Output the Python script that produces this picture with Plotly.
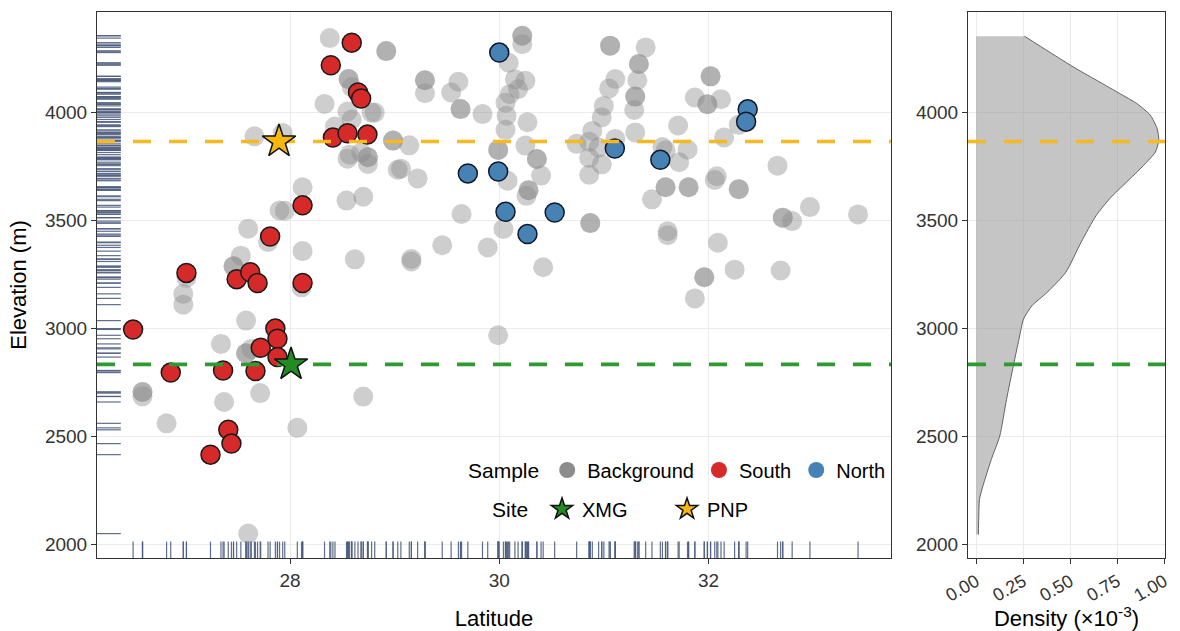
import plotly.graph_objects as go

# ---------------- data ----------------
bg_lat = [26.59, 26.59, 26.59, 26.82, 26.98, 26.98, 27.01, 27.34, 27.58, 27.58, 27.58,
          27.63, 27.37, 27.715, 28.07, 27.60, 28.70, 29.99, 27.60, 27.53, 27.46, 27.46,
          27.79, 28.12, 28.62, 28.11, 27.90, 27.95, 28.12, 27.66, 27.93, 28.38, 28.56,
          28.56, 28.59, 28.33, 28.55, 28.78, 28.59, 28.43, 28.57, 28.55, 28.745, 28.745,
          28.745, 28.68, 28.54, 28.70, 28.92, 28.92, 28.985, 28.985, 29.03, 28.81,
          29.29, 29.29, 29.29, 29.61, 29.54, 29.63, 29.63, 29.84, 30.22, 30.22, 30.22,
          30.09, 30.15, 30.25, 30.18, 30.10, 30.06, 30.07, 30.06, 30.27, 29.99, 29.99,
          30.25, 30.36, 30.36, 30.40, 30.28, 30.28, 30.26, 30.08, 29.14, 29.22, 29.06,
          29.64, 30.04, 29.455, 29.16, 29.16, 29.89, 30.42, 30.87, 30.87, 31.06, 31.06,
          31.40, 31.335, 31.335, 31.32, 31.30, 31.30, 31.29, 31.11, 31.05, 31.00, 30.98,
          31.11, 31.30, 30.89, 30.86, 30.95, 30.86, 30.98, 30.86, 30.74, 31.71, 31.56,
          31.59, 31.80, 31.72, 31.59, 31.59, 31.46, 31.81, 31.81, 31.87, 32.02, 32.02,
          31.99, 31.99, 32.12, 32.15, 32.29, 32.06, 32.08, 32.29, 32.29, 32.66, 32.71,
          32.71, 32.80, 32.97, 33.43, 31.61, 31.61, 32.09, 31.96, 31.96, 32.25, 32.69,
          31.87]
bg_elev = [2705, 2705, 2685, 2560, 3160, 3110, 3235, 2928, 3036, 2885, 2885,
           2905, 2659, 2700, 2539, 2049, 2684, 2968, 3462, 3337, 3288, 3288,
           3400, 3358, 3320, 3190, 3546, 3545, 3654, 3890, 3905, 4345, 4155,
           4155, 4118, 4040, 4005, 4000, 3968, 3935, 3805, 3786, 3793, 3793,
           3762, 3815, 3592, 3610, 4285, 4285, 3870, 3870, 3735, 4000,
           4150, 4150, 4090, 4143, 4093, 4016, 4016, 3993, 4356, 4356, 4317,
           4231, 4154, 4147, 4108, 4085, 4046, 3985, 3920, 3955, 3827, 3827,
           3847, 3785, 3785, 3708, 3640, 3640, 3614, 3684, 3848, 3695, 3740,
           3530, 3461, 3385, 3322, 3310, 3375, 3283, 3488, 3488, 4310, 4310,
           4302, 4225, 4225, 4150, 4074, 4074, 4012, 4155, 4112, 4031, 3978,
           3878, 3908, 3915, 3865, 3838, 3790, 3760, 3712, 3855, 3940, 3840,
           3825, 3828, 3770, 3654, 3654, 3598, 3654, 3654, 4070, 4168, 4168,
           4039, 4039, 4062, 3885, 3943, 3688, 3705, 3645, 3645, 3754, 3513,
           3513, 3497, 3562, 3528, 3450, 3432, 3397, 3237, 3237, 3272, 3268,
           3139]

south_lat = [26.50, 27.01, 26.86, 27.24, 27.41, 27.44, 27.36, 27.67, 27.72, 27.86,
             27.88, 27.88, 27.49, 27.62, 27.69, 27.81, 28.12, 28.12, 28.39, 28.59,
             28.65, 28.68, 28.41, 28.55, 28.74]
south_elev = [2995, 3257, 2795, 2415, 2530, 2466, 2805, 2802, 2910, 2999,
              2952, 2867, 3228, 3260, 3210, 3426, 3210, 3570, 4219, 4324,
              4093, 4065, 3884, 3904, 3898]

north_lat = [30.00, 29.70, 29.99, 30.06, 30.53, 30.27, 31.105, 31.54, 32.375, 32.36]
north_elev = [4278, 3718, 3727, 3540, 3537, 3437, 3833, 3781, 4015, 3958]

site_names = ["XMG", "PNP"]
site_lat = [28.01, 27.895]
site_elev = [2833, 3866]
site_colors = ["#228B22", "#F7B70F"]
line_colors = ["#2F9A2F", "#F6B921"]

# density of elevation (x 10^-3) from bottom to top
dens_elev = [2045, 2120, 2207, 2269, 2393, 2502, 2672, 2827, 2950, 3043, 3105,
             3167, 3260, 3399, 3523, 3601, 3678, 3755, 3817, 3872, 3926, 3988,
             4042, 4088, 4142, 4204, 4282, 4354]
dens_val = [0.012, 0.014, 0.018, 0.036, 0.081, 0.126, 0.162, 0.198, 0.228, 0.252, 0.297,
            0.378, 0.477, 0.558, 0.638, 0.710, 0.800, 0.890, 0.953, 0.971, 0.962, 0.926,
            0.854, 0.764, 0.656, 0.531, 0.387, 0.257]

lat_ticks = [28, 30, 32]
elev_ticks = [2000, 2500, 3000, 3500, 4000]
dens_ticks = [0.0, 0.25, 0.5, 0.75, 1.0]

# ---------------- figure ----------------
W, H = 1180, 631
xr = [26.155, 33.745]
yr = [1936, 4466]
xdr = [-0.043, 1.004]

FONT = "Liberation Sans, Arial, sans-serif"
RUG_C = "rgba(78,94,128,0.9)"

fig = go.Figure()

# rugs (all samples)
all_lat = bg_lat + south_lat + north_lat
all_elev = bg_elev + south_elev + north_elev
rx, ry = [], []
xlen = 0.03 * (xr[1] - xr[0])
ylen = 0.03 * (yr[1] - yr[0])
for e in all_elev:
    rx += [xr[0], xr[0] + xlen, None]
    ry += [e, e, None]
for l in all_lat:
    rx += [l, l, None]
    ry += [yr[0], yr[0] + ylen, None]
fig.add_trace(go.Scatter(x=rx, y=ry, mode="lines", line=dict(color=RUG_C, width=1.2),
                         showlegend=False, hoverinfo="skip"))

# background samples
fig.add_trace(go.Scatter(x=bg_lat, y=bg_elev, mode="markers", showlegend=False,
                         marker=dict(size=20, color="rgba(138,138,138,0.42)", line=dict(width=0))))
# south / north
fig.add_trace(go.Scatter(x=south_lat, y=south_elev, mode="markers", showlegend=False,
                         marker=dict(size=19, color="#D62A2A", line=dict(width=1.5, color="#1a1a1a"))))
fig.add_trace(go.Scatter(x=north_lat, y=north_elev, mode="markers", showlegend=False,
                         marker=dict(size=19, color="#4682B4", line=dict(width=1.5, color="#10192a"))))

# site elevation lines (main panel)
for e, c in zip(site_elev, line_colors):
    fig.add_trace(go.Scatter(x=xr, y=[e, e], mode="lines", showlegend=False, hoverinfo="skip",
                             line=dict(color=c, width=3.6, dash="18px,18px")))

# sites
for n, la, el, c in zip(site_names, site_lat, site_elev, site_colors):
    fig.add_trace(go.Scatter(x=[la], y=[el], mode="markers", showlegend=False, name=n,
                             marker=dict(symbol="star", size=25, color=c,
                                         line=dict(width=1.5, color="#111111"))))

# density panel
fig.add_trace(go.Scatter(x=dens_val, y=dens_elev, xaxis="x2", yaxis="y2", mode="lines",
                         fill="tozerox", fillcolor="rgba(150,150,150,0.55)",
                         line=dict(color="#555555", width=0.9, shape="spline", smoothing=0.6),
                         showlegend=False))
for e, c in zip(site_elev, line_colors):
    fig.add_trace(go.Scatter(x=xdr, y=[e, e], xaxis="x2", yaxis="y2", mode="lines",
                             showlegend=False, hoverinfo="skip",
                             line=dict(color=c, width=3.6, dash="18px,18px")))

# legend keys
fig.add_trace(go.Scatter(x=[None], y=[None], mode="markers", name="Background", legend="legend",
                         marker=dict(size=20, color="#8C8C8C")))
fig.add_trace(go.Scatter(x=[None], y=[None], mode="markers", name="South", legend="legend",
                         marker=dict(size=20, color="#D62A2A")))
fig.add_trace(go.Scatter(x=[None], y=[None], mode="markers", name="North", legend="legend",
                         marker=dict(size=20, color="#4682B4")))
for n, c in zip(site_names, site_colors):
    fig.add_trace(go.Scatter(x=[None], y=[None], mode="markers", name=n, legend="legend2",
                             marker=dict(symbol="star", size=20, color=c,
                                         line=dict(width=1.5, color="#111111"))))

axis_common = dict(showgrid=True, gridcolor="#EBEBEB", gridwidth=1, zeroline=False,
                   showline=True, linecolor="#333333", linewidth=1, mirror=True,
                   ticks="outside", ticklen=5, tickcolor="#333333", tickwidth=1,
                   automargin=False,
                   tickfont=dict(family=FONT, size=19, color="#333333"))

y0d, y1d = 1 - 558 / H, 1 - 12 / H
fig.update_layout(
    width=W, height=H, margin=dict(l=0, r=0, t=0, b=0, autoexpand=False),
    paper_bgcolor="white", plot_bgcolor="white",
    font=dict(family=FONT, color="black"),
    xaxis=dict(domain=[97 / W, 891 / W], range=xr, tickvals=lat_ticks,
               title=dict(text="Latitude", font=dict(size=22), standoff=20), **axis_common),
    yaxis=dict(domain=[y0d, y1d], range=yr, tickvals=elev_ticks,
               title=dict(text="Elevation (m)", font=dict(size=22), standoff=12), **axis_common),
    xaxis2=dict(domain=[968 / W, 1165 / W], range=xdr, tickvals=dens_ticks, tickformat=".2f",
                tickangle=-30, anchor="y2",
                title=dict(text="Density (×10<sup>-3</sup>)", font=dict(size=22), standoff=8),
                **{**axis_common, "tickfont": dict(family=FONT, size=18, color="#333333")}),
    yaxis2=dict(domain=[y0d, y1d], range=yr, tickvals=elev_ticks, anchor="x2", **axis_common),
    legend=dict(orientation="h", x=466 / W, y=1 - 470 / H, xanchor="left", yanchor="middle",
                bgcolor="rgba(0,0,0,0)", font=dict(family=FONT, size=20, color="black"),
                title=dict(text="Sample", side="left", font=dict(family=FONT, size=21)),
                itemclick=False, itemdoubleclick=False),
    legend2=dict(orientation="h", x=490 / W, y=1 - 509 / H, xanchor="left", yanchor="middle",
                 bgcolor="rgba(0,0,0,0)", font=dict(family=FONT, size=20, color="black"),
                 title=dict(text="Site ", side="left", font=dict(family=FONT, size=21)),
                 entrywidth=80, itemclick=False, itemdoubleclick=False),
)

fig.write_html("out.html", config={"displayModeBar": False},
               post_script="document.body.style.margin='0';document.body.style.overflow='hidden';")
